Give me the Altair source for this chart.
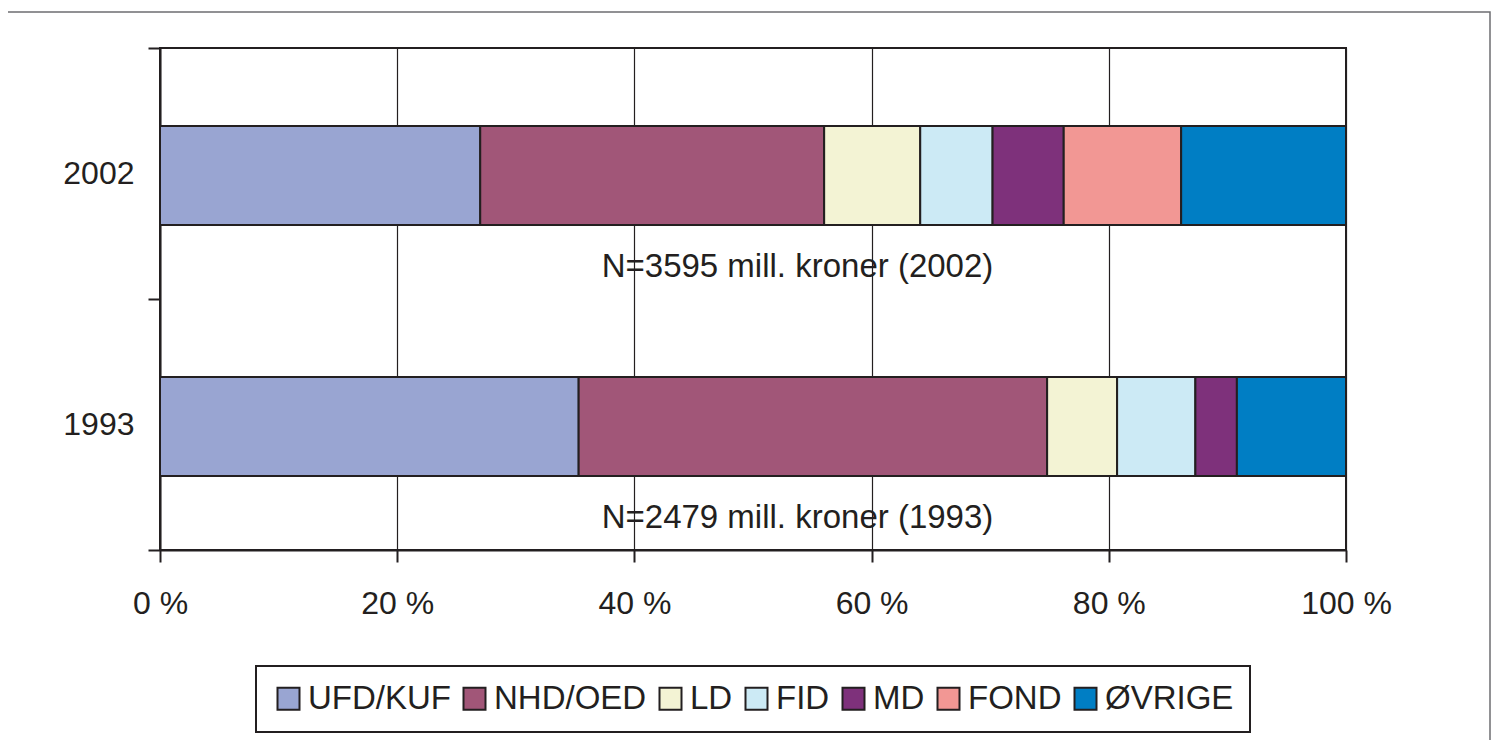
import altair as alt
import pandas as pd

years = ["2002", "1993"]
categories = ["UFD/KUF", "NHD/OED", "LD", "FID", "MD", "FOND", "ØVRIGE"]
share_2002 = [27.0, 29.0, 8.1, 6.1, 6.0, 9.9, 13.9]
share_1993 = [35.3, 39.5, 5.9, 6.6, 3.5, 0.0, 9.2]
colors = ["#99A5D2", "#A15678", "#F3F3D4", "#CCEAF5", "#7E317B", "#F29794", "#007EC4"]
notes = ["N=3595 mill. kroner (2002)", "N=2479 mill. kroner (1993)"]
x_ticks = [0, 20, 40, 60, 80, 100]

rows = []
for year, shares in zip(years, [share_2002, share_1993]):
    for i, (cat, v) in enumerate(zip(categories, shares)):
        if v > 0:
            rows.append({"year": year, "cat": cat, "share": v, "idx": i})
df = pd.DataFrame(rows)
notes_df = pd.DataFrame({"year": years, "note": notes})

INK = "#231F20"
FONT = "Liberation Sans"

yscale = alt.Scale(domain=years, paddingInner=0, paddingOuter=0)

bars = alt.Chart(df).mark_bar(size=99, stroke=INK, strokeWidth=2, yOffset=2).encode(
    x=alt.X("share:Q", stack="zero",
            scale=alt.Scale(domain=[0, 100], nice=False),
            axis=alt.Axis(values=x_ticks, labelExpr="datum.value + ' %'",
                          title=None, grid=True, labelFlush=False,
                          labelPadding=26)),
    y=alt.Y("year:N", scale=yscale, sort=years,
            axis=alt.Axis(title=None, tickBand="extent", grid=False,
                          labelPadding=14)),
    color=alt.Color("cat:N", scale=alt.Scale(domain=categories, range=colors),
                    legend=alt.Legend(title=None)),
    order=alt.Order("idx:Q"),
)

text = alt.Chart(notes_df).mark_text(
    font=FONT, fontSize=33, color=INK, align="center", baseline="middle", dy=93
).encode(
    x=alt.datum(53.75),
    y=alt.Y("year:N", scale=yscale, sort=years),
    text="note:N",
)

frame = alt.Chart(alt.Data(values=[{"f": 0}])).mark_rect(
    fillOpacity=0, stroke="#6D6E71", strokeWidth=1.5, clip=False
).encode(
    x=alt.value(-154), x2=alt.value(1330),
    y=alt.value(-36), y2=alt.value(800),
)

chart = alt.layer(frame, bars, text).properties(
    width=1186, height=502,
    autosize=alt.AutoSizeParams(type="none"),
    padding={"left": 152, "top": 40, "right": 145, "bottom": 190},
    background="white",
).configure_view(
    stroke=INK, strokeWidth=2
).configure_axis(
    domainColor=INK, domainWidth=2, tickColor=INK, tickWidth=2, tickSize=12,
    labelFont=FONT, labelFontSize=32, labelColor=INK,
    gridColor=INK, gridWidth=1.2, gridOpacity=1,
).configure_legend(
    orient="none", legendX=96, legendY=618, direction="horizontal",
    symbolType="square", symbolSize=484, symbolStrokeWidth=2,
    symbolStrokeColor=INK, symbolOpacity=1,
    labelFont=FONT, labelFontSize=33, labelColor=INK, labelOffset=3,
    columnPadding=7, padding=16, strokeColor=INK, strokeWidth=2,
    fillColor="white",
)

chart.save("out.html", embed_options={"renderer": "svg", "actions": False})
